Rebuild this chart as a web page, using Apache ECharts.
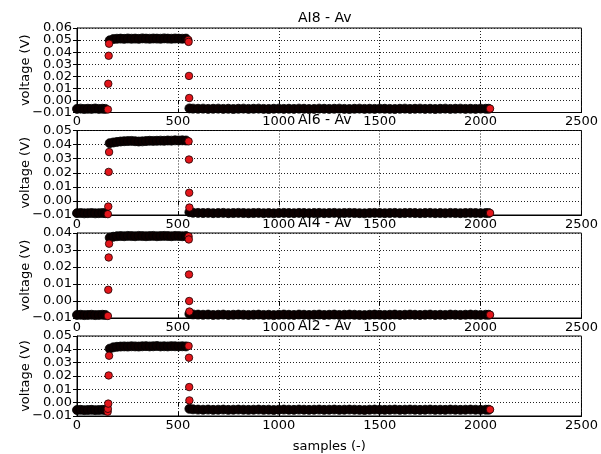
<!DOCTYPE html>
<html><head><meta charset="utf-8">
<script src="https://cdn.jsdelivr.net/npm/echarts@6/dist/echarts.min.js"></script>
<style>html,body{margin:0;padding:0;background:#fff}#c{width:601px;height:454px}</style>
</head><body><div id="c"></div>
<script>
const titles = ['AI8 - Av', 'AI6 - Av', 'AI4 - Av', 'AI2 - Av'];
const yMax = [0.06, 0.05, 0.04, 0.05];
const xTicks = [0, 500, 1000, 1500, 2000, 2500];

const leftX = [0,18,36,54,72,90,108,126,140];
const highX = [162,180,198,216,234,252,270,288,306,324,342,360,378,396,414,432,450,468,486,504,522,540];
const rightX = [557,575,600,625,650,675,700,725,750,775,
  800,825,850,875,900,925,950,975,1000,1025,
  1050,1075,1100,1125,1150,1175,1200,1225,1250,1275,
  1300,1325,1350,1375,1400,1425,1450,1475,1500,1525,
  1550,1575,1600,1625,1650,1675,1700,1725,1750,1775,
  1800,1825,1850,1875,1900,1925,1950,1975,2000,2025,
  2040];

const ai8Left = [-0.0070,-0.0068,-0.0071,-0.0069,-0.0070,-0.0067,-0.0070,-0.0069,-0.0070];
const ai8High = [0.0498,0.0508,0.0511,0.0512,0.0510,0.0513,0.0511,0.0512,0.0510,0.0514,0.0512,0.0511,0.0513,0.0512,0.0511,0.0514,0.0512,0.0511,0.0513,0.0512,0.0511,0.0512];
const ai8Right = [-0.0066,-0.0068,-0.0069,-0.0068,-0.0070,-0.0069,-0.0068,-0.0070,-0.0069,-0.0071,
  -0.0069,-0.0068,-0.0070,-0.0069,-0.0068,-0.0070,-0.0071,-0.0069,-0.0068,-0.0070,
  -0.0069,-0.0070,-0.0068,-0.0069,-0.0071,-0.0070,-0.0068,-0.0069,-0.0070,-0.0069,
  -0.0068,-0.0070,-0.0071,-0.0069,-0.0068,-0.0070,-0.0069,-0.0070,-0.0068,-0.0069,
  -0.0070,-0.0071,-0.0069,-0.0068,-0.0070,-0.0069,-0.0068,-0.0070,-0.0069,-0.0071,
  -0.0069,-0.0068,-0.0070,-0.0069,-0.0068,-0.0070,-0.0069,-0.0070,-0.0068,-0.0069,
  -0.0069];
const ai8Edge = [[153,-0.0075],[155,0.0138],[157,0.0370],[159,0.0470],[552,0.0500],[553,0.0485],[555,0.0203],[556,0.0020],[2047,-0.0068]];

const ai6Left = [-0.0087,-0.0086,-0.0088,-0.0087,-0.0086,-0.0088,-0.0087,-0.0086,-0.0087];
const ai6High = [0.0410,0.0415,0.0419,0.0422,0.0424,0.0425,0.0426,0.0424,0.0422,0.0423,0.0425,0.0427,0.0426,0.0427,0.0428,0.0427,0.0429,0.0428,0.0430,0.0429,0.0430,0.0429];
const ai6Right = [-0.0080,-0.0084,-0.0085,-0.0086,-0.0085,-0.0087,-0.0086,-0.0085,-0.0087,-0.0086,
  -0.0085,-0.0086,-0.0087,-0.0086,-0.0085,-0.0087,-0.0086,-0.0088,-0.0086,-0.0085,
  -0.0086,-0.0087,-0.0085,-0.0086,-0.0087,-0.0086,-0.0085,-0.0087,-0.0086,-0.0085,
  -0.0087,-0.0086,-0.0085,-0.0086,-0.0087,-0.0088,-0.0086,-0.0085,-0.0086,-0.0087,
  -0.0086,-0.0085,-0.0087,-0.0086,-0.0085,-0.0086,-0.0087,-0.0086,-0.0085,-0.0087,
  -0.0086,-0.0087,-0.0085,-0.0086,-0.0087,-0.0086,-0.0085,-0.0086,-0.0087,-0.0086,
  -0.0086];
const ai6Edge = [[153,-0.0094],[155,-0.0040],[157,0.0206],[159,0.0347],[553,0.0423],[555,0.0294],[556,0.0058],[557,-0.0047],[2047,-0.0086]];

const ai4Left = [-0.0082,-0.0081,-0.0083,-0.0082,-0.0081,-0.0083,-0.0082,-0.0081,-0.0082];
const ai4High = [0.0372,0.0378,0.0381,0.0382,0.0381,0.0383,0.0382,0.0381,0.0383,0.0382,0.0381,0.0382,0.0383,0.0381,0.0382,0.0383,0.0382,0.0381,0.0383,0.0382,0.0381,0.0382];
const ai4Right = [-0.0076,-0.0079,-0.0080,-0.0081,-0.0080,-0.0082,-0.0081,-0.0080,-0.0082,-0.0081,
  -0.0080,-0.0081,-0.0082,-0.0081,-0.0080,-0.0082,-0.0081,-0.0083,-0.0081,-0.0080,
  -0.0081,-0.0082,-0.0080,-0.0081,-0.0082,-0.0081,-0.0080,-0.0082,-0.0081,-0.0080,
  -0.0082,-0.0081,-0.0080,-0.0081,-0.0082,-0.0083,-0.0081,-0.0080,-0.0081,-0.0082,
  -0.0081,-0.0080,-0.0082,-0.0081,-0.0080,-0.0081,-0.0082,-0.0081,-0.0080,-0.0082,
  -0.0081,-0.0082,-0.0080,-0.0081,-0.0082,-0.0081,-0.0080,-0.0081,-0.0082,-0.0081,
  -0.0081];
const ai4Edge = [[153,-0.0088],[155,0.0066],[157,0.0256],[159,0.0337],[553,0.0380],[554,0.0362],[555,0.0156],[556,0.0000],[557,-0.0062],[2047,-0.0081]];

const ai2Left = [-0.0055,-0.0054,-0.0056,-0.0055,-0.0054,-0.0056,-0.0055,-0.0054,-0.0055];
const ai2High = [0.0405,0.0415,0.0419,0.0421,0.0422,0.0421,0.0423,0.0422,0.0421,0.0423,0.0424,0.0422,0.0423,0.0425,0.0422,0.0423,0.0422,0.0424,0.0423,0.0422,0.0423,0.0422];
const ai2Right = [-0.0046,-0.0050,-0.0052,-0.0053,-0.0052,-0.0054,-0.0053,-0.0052,-0.0054,-0.0053,
  -0.0052,-0.0053,-0.0054,-0.0053,-0.0052,-0.0054,-0.0053,-0.0055,-0.0053,-0.0052,
  -0.0053,-0.0054,-0.0052,-0.0053,-0.0054,-0.0053,-0.0052,-0.0054,-0.0053,-0.0052,
  -0.0054,-0.0053,-0.0052,-0.0053,-0.0054,-0.0055,-0.0053,-0.0052,-0.0053,-0.0054,
  -0.0053,-0.0052,-0.0054,-0.0053,-0.0052,-0.0053,-0.0054,-0.0053,-0.0052,-0.0054,
  -0.0053,-0.0054,-0.0052,-0.0053,-0.0054,-0.0053,-0.0052,-0.0053,-0.0054,-0.0053,
  -0.0053];
const ai2Edge = [[152,-0.0068],[153,-0.0046],[155,-0.0007],[157,0.0204],[159,0.0352],[553,0.0425],[555,0.0337],[556,0.0117],[557,0.0017],[2047,-0.0052]];

const panels = [
  {left: ai8Left, high: ai8High, right: ai8Right, edge: ai8Edge},
  {left: ai6Left, high: ai6High, right: ai6Right, edge: ai6Edge},
  {left: ai4Left, high: ai4High, right: ai4Right, edge: ai4Edge},
  {left: ai2Left, high: ai2High, right: ai2Right, edge: ai2Edge}
];

const zip = (xs, ys) => xs.map((x, i) => [x, ys[i]]);
const FONT = 'DejaVu Sans';
const tops = [28, 130.5, 233, 336];
const heights = [84.5, 84.5, 85, 85];

const grids = [], xAxes = [], yAxes = [], series = [], graphics = [];
const yFmt = v => {
  const r = Math.round(v * 100);
  return (r < 0 ? '\u2212' : '') + (Math.abs(r) / 100).toFixed(2);
};
panels.forEach((p, i) => {
  grids.push({left: 77, right: 18, top: tops[i], height: heights[i], show: true, borderColor: '#000', borderWidth: 1, backgroundColor: '#fff'});
  const xBase = {gridIndex: i, type: 'value', min: xTicks[0], max: xTicks[xTicks.length - 1], interval: 500};
  xAxes.push(Object.assign({}, xBase, {
    position: 'bottom',
    axisLine: {show: true, onZero: false, lineStyle: {color: '#000', width: 1}},
    axisTick: {show: true, inside: true, length: 4, lineStyle: {color: '#000'}},
    axisLabel: {show: true, color: '#000', fontFamily: FONT, fontSize: 13, margin: 3,
      showMinLabel: true, showMaxLabel: true, hideOverlap: false, formatter: v => String(v)},
    splitLine: {show: true, lineStyle: {color: '#222', type: [1, 2], width: 1}},
    name: i === 3 ? 'samples (-)' : '', nameLocation: 'middle', nameGap: 24, nameMoveOverlap: false,
    nameTextStyle: {color: '#000', fontFamily: FONT, fontSize: 13}
  }));
  xAxes.push(Object.assign({}, xBase, {
    position: 'top',
    axisLine: {show: false},
    axisTick: {show: true, inside: true, length: 4, lineStyle: {color: '#000'}},
    axisLabel: {show: false}, splitLine: {show: false}
  }));
  const yBase = {gridIndex: i, type: 'value', min: -0.01, max: yMax[i], interval: 0.01};
  const yMin = yBase.min, yTop = yMax[i];
  // main left axis: inner labels only
  yAxes.push(Object.assign({}, yBase, {
    position: 'left',
    axisLine: {show: true, onZero: false, lineStyle: {color: '#000', width: 1}},
    axisTick: {show: true, inside: true, length: 4, lineStyle: {color: '#000'}},
    axisLabel: {show: true, color: '#000', fontFamily: FONT, fontSize: 13, margin: 5, formatter: yFmt,
      showMinLabel: false, showMaxLabel: false, hideOverlap: false},
    splitLine: {show: true, lineStyle: {color: '#222', type: [1, 2], width: 1}},
    name: 'voltage (V)', nameLocation: 'middle', nameGap: 45, nameRotate: 90, nameMoveOverlap: false,
    nameTextStyle: {color: '#000', fontFamily: FONT, fontSize: 13}
  }));
  // right axis: inward ticks only
  yAxes.push(Object.assign({}, yBase, {
    position: 'right',
    axisLine: {show: false},
    axisTick: {show: true, inside: true, length: 4, lineStyle: {color: '#000'}},
    axisLabel: {show: false}, splitLine: {show: false}
  }));
  // second left axis: end labels (min / max) only
  yAxes.push(Object.assign({}, yBase, {
    position: 'left',
    axisLine: {show: false}, axisTick: {show: false}, splitLine: {show: false},
    axisLabel: {show: true, color: '#000', fontFamily: FONT, fontSize: 13, margin: 5,
      showMinLabel: true, showMaxLabel: true, hideOverlap: false,
      formatter: v => (Math.abs(v - yMin) < 1e-9 || Math.abs(v - yTop) < 1e-9) ? yFmt(v) : ''}
  }));
  const band = zip(leftX, p.left).concat(zip(highX, p.high), zip(rightX, p.right));
  series.push({
    type: 'scatter', xAxisIndex: 2 * i, yAxisIndex: 3 * i, data: band,
    symbolSize: 9, silent: true, animation: false,
    itemStyle: {color: '#0c0000', borderColor: '#000', borderWidth: 0.8, opacity: 1}
  });
  series.push({
    type: 'scatter', xAxisIndex: 2 * i, yAxisIndex: 3 * i, data: p.edge,
    symbolSize: 7.5, silent: true, animation: false,
    itemStyle: {color: '#e3161b', borderColor: '#1a0000', borderWidth: 0.8, opacity: 1}
  });
  graphics.push({
    type: 'text', left: 298, top: tops[i] - 17, z: 100,
    style: {text: titles[i], fill: '#000', font: '14px "DejaVu Sans"'}
  });
});

const chart = echarts.init(document.getElementById('c'), null, {renderer: 'canvas'});
chart.setOption({
  animation: false,
  backgroundColor: '#fff',
  grid: grids, xAxis: xAxes, yAxis: yAxes, series: series, graphic: graphics
});
</script></body></html>
